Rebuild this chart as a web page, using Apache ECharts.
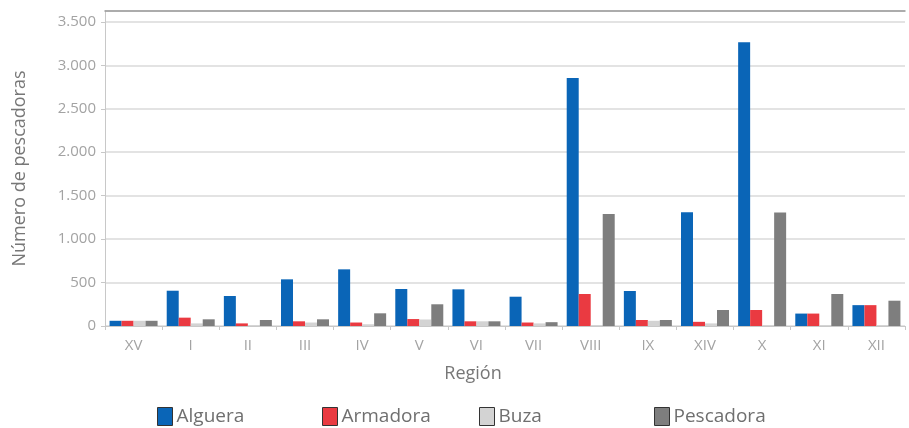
<!DOCTYPE html>
<html>
<head>
<meta charset="utf-8">
<script src="https://cdn.jsdelivr.net/npm/echarts@6/dist/echarts.min.js"></script>
<style>
  html, body { margin: 0; padding: 0; background: #fff; }
</style>
</head>
<body>
<div id="chart" style="width: 909px; height: 428px"></div>
<script>
// datos
var regiones = ["XV", "I", "II", "III", "IV", "V", "VI", "VII", "VIII", "IX", "XIV", "X", "XI", "XII"];
var alguera = [60, 406, 345, 537, 652, 426, 422, 337, 2855, 403, 1310, 3265, 143, 240];
var armadora = [60, 96, 30, 54, 40, 80, 54, 40, 368, 69, 48, 184, 143, 240];
var buza = [60, 30, 10, 40, 20, 75, 54, 30, 10, 60, 30, 10, 10, 10];
var pescadora = [60, 77, 69, 77, 146, 250, 54, 44, 1290, 69, 184, 1305, 368, 291];

var fuente = "Open Sans";

function miles(v) {
  // separador de miles con punto
  return String(v).replace(/\B(?=(\d{3})+(?!\d))/g, ".");
}

function leyenda(nombre, left) {
  return {
    data: [nombre],
    left: left,
    top: 402,
    icon: "rect",
    itemWidth: 15,
    itemHeight: 18,
    itemStyle: { borderColor: "#333", borderWidth: 1 },
    textStyle: { color: "#6f6f6f", fontSize: 19, fontFamily: fuente, padding: [0, 0, 0, -1] },
    selectedMode: false,
  };
}

var myChart = echarts.init(document.getElementById("chart"));

var option = {
  animation: false,
  textStyle: { fontFamily: fuente },
  legend: [
    leyenda("Alguera", 152),
    leyenda("Armadora", 317),
    leyenda("Buza", 474),
    leyenda("Pescadora", 649),
  ],
  grid: {
    left: 105,
    right: 4,
    top: 11,
    bottom: 102,
  },
  xAxis: [
    {
      type: "category",
      data: regiones,
      name: "Región",
      nameLocation: "middle",
      nameGap: 39,
      nameTextStyle: { color: "#777", fontSize: 18, fontFamily: fuente, padding: [0, 64, 0, 0] },
      axisLine: { lineStyle: { color: "#c8c8c8" } },
      axisTick: { show: true, length: 4, lineStyle: { color: "#c8c8c8" } },
      axisLabel: { color: "#a3a3a3", fontSize: 15, margin: 12 },
    },
    {
      // borde superior del área del gráfico
      type: "category",
      data: regiones,
      position: "top",
      axisLine: { show: true, lineStyle: { color: "#9a9a9a", width: 1.5 } },
      axisTick: { show: false },
      axisLabel: { show: false },
    },
  ],
  yAxis: [
    {
      type: "value",
      min: 0,
      max: 3625,
      interval: 500,
      name: "Número de pescadoras",
      nameLocation: "middle",
      nameGap: 76,
      nameTextStyle: { color: "#777", fontSize: 18, fontFamily: fuente },
      axisLine: { show: true, lineStyle: { color: "#c8c8c8" } },
      axisTick: { show: true, length: 4, lineStyle: { color: "#c8c8c8" } },
      axisLabel: {
        color: "#a3a3a3",
        fontSize: 15,
        margin: 9,
        showMaxLabel: false,
        formatter: function (v) {
          return v % 500 === 0 ? miles(v) : "";
        },
      },
      splitLine: { lineStyle: { color: "#dadada", width: 1.5 } },
    },
  ],
  series: [
    {
      name: "Alguera",
      type: "bar",
      data: alguera,
      barGap: "0%",
      barCategoryGap: "16%",
      itemStyle: { color: "#0a65b7" },
    },
    {
      name: "Armadora",
      type: "bar",
      data: armadora,
      itemStyle: { color: "#ea3a41" },
    },
    {
      name: "Buza",
      type: "bar",
      data: buza,
      itemStyle: { color: "#d3d3d3" },
    },
    {
      name: "Pescadora",
      type: "bar",
      data: pescadora,
      itemStyle: { color: "#7e7e7e" },
    },
  ],
};

myChart.setOption(option);
</script>
</body>
</html>
